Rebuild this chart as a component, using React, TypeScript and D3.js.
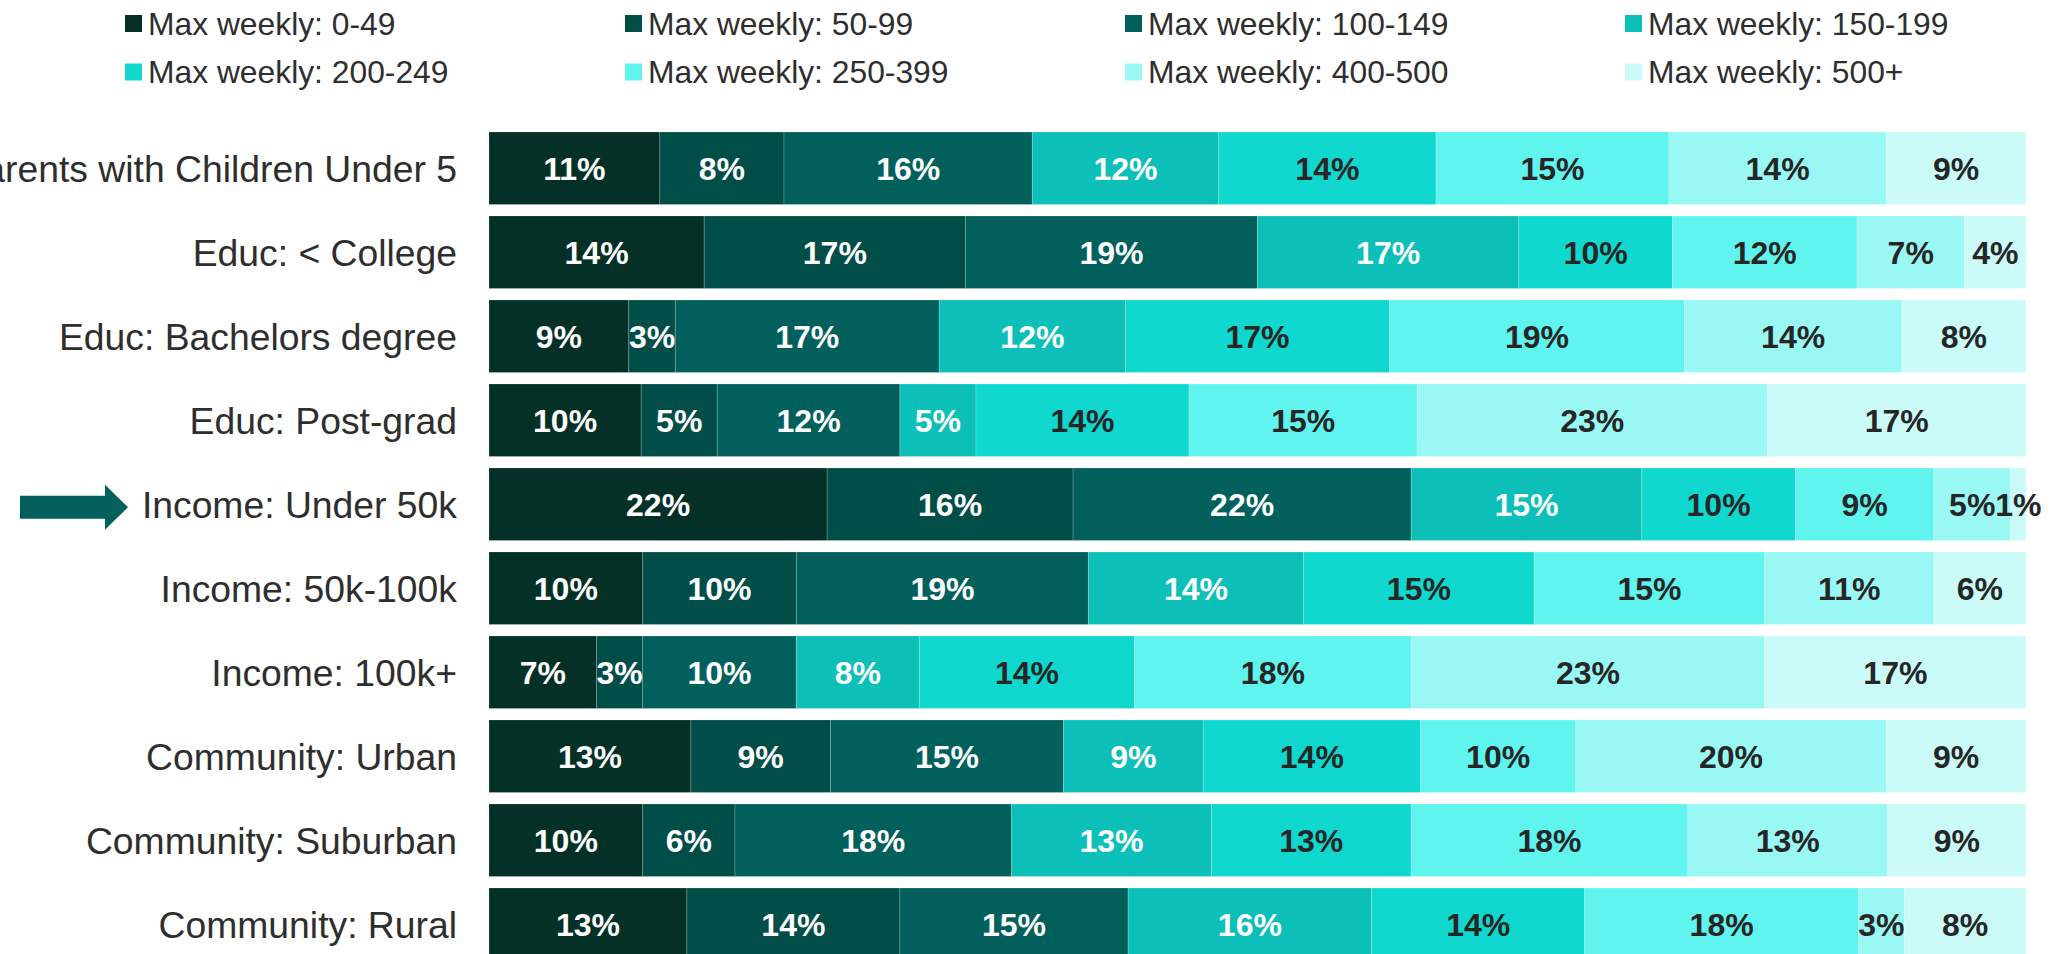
import React, { useRef, useEffect } from "react";
import * as d3 from "d3";

const categories = [
  "Parents with Children Under 5",
  "Educ: < College",
  "Educ: Bachelors degree",
  "Educ: Post-grad",
  "Income: Under 50k",
  "Income: 50k-100k",
  "Income: 100k+",
  "Community: Urban",
  "Community: Suburban",
  "Community: Rural"
];

const seriesNames = [
  "Max weekly: 0-49",
  "Max weekly: 50-99",
  "Max weekly: 100-149",
  "Max weekly: 150-199",
  "Max weekly: 200-249",
  "Max weekly: 250-399",
  "Max weekly: 400-500",
  "Max weekly: 500+"
];

// percent of respondents, one array per series (same order as categories)
const w0_49 = [11, 14, 9, 10, 22, 10, 7, 13, 10, 13];
const w50_99 = [8, 17, 3, 5, 16, 10, 3, 9, 6, 14];
const w100_149 = [16, 19, 17, 12, 22, 19, 10, 15, 18, 15];
const w150_199 = [12, 17, 12, 5, 15, 14, 8, 9, 13, 16];
const w200_249 = [14, 10, 17, 14, 10, 15, 14, 14, 13, 14];
const w250_399 = [15, 12, 19, 15, 9, 15, 18, 10, 18, 18];
const w400_500 = [14, 7, 14, 23, 5, 11, 23, 20, 13, 3];
const w500p = [9, 4, 8, 17, 1, 6, 17, 9, 9, 8];

const highlighted = "Income: Under 50k";

const colors = [
  "#043027",
  "#014D48",
  "#01605C",
  "#0CBFB9",
  "#10D8CF",
  "#5FF4EE",
  "#99F8F3",
  "#CAFBF8"
];
const lightLabel = [true, true, true, true, false, false, false, false];

const FONT = "'Liberation Sans', Arial, Helvetica, sans-serif";

const App = () => {
  const node: any = useRef();

  useEffect(() => {
    const width = 2061,
      height = 954;
    const svg = d3.select(node.current);
    svg.selectAll("*").remove();
    svg.attr("width", width).attr("height", height);

    const all = [w0_49, w50_99, w100_149, w150_199, w200_249, w250_399, w400_500, w500p];
    const rows = categories.map((c, i) => {
      const r: any = { category: c };
      seriesNames.forEach((s, j) => (r[s] = all[j][i]));
      return r;
    });

    const stacked = d3
      .stack()
      .keys(seriesNames)
      .offset(d3.stackOffsetExpand)(rows);

    const x = d3.scaleLinear().domain([0, 1]).range([489, 2026]);
    const y = d3
      .scaleBand()
      .domain(categories)
      .range([126.25, 966.25])
      .paddingInner(0.137)
      .paddingOuter(0.0685);

    const color = d3.scaleOrdinal<string>().domain(seriesNames).range(colors);

    // bars
    const groups = svg
      .append("g")
      .selectAll("g")
      .data(stacked)
      .enter()
      .append("g")
      .attr("fill", d => color(d.key));

    groups
      .selectAll("rect")
      .data(d => d.map(p => ({ p, key: d.key })))
      .enter()
      .append("rect")
      .attr("x", d => x(d.p[0]))
      .attr("y", d => y(d.p.data.category as string)!)
      .attr("width", d => x(d.p[1]) - x(d.p[0]))
      .attr("height", y.bandwidth())
      .attr("stroke", "#ffffff")
      .attr("stroke-opacity", 0.18)
      .attr("stroke-width", 1);

    // value labels
    groups
      .selectAll("text")
      .data((d, i) => d.map(p => ({ p, key: d.key, idx: i })))
      .enter()
      .append("text")
      .attr("x", d => (x(d.p[0]) + x(d.p[1])) / 2)
      .attr("y", d => y(d.p.data.category as string)! + y.bandwidth() / 2)
      .attr("dy", "0.36em")
      .attr("text-anchor", "middle")
      .attr("font-family", FONT)
      .attr("font-weight", "bold")
      .attr("font-size", "32px")
      .attr("fill", d => (lightLabel[d.idx] ? "#ffffff" : "#262626"))
      .text(d => `${d.p.data[d.key]}%`);

    // category labels
    svg
      .append("g")
      .selectAll("text")
      .data(categories)
      .enter()
      .append("text")
      .attr("x", 457)
      .attr("y", d => y(d)! + y.bandwidth() / 2)
      .attr("dy", "0.36em")
      .attr("text-anchor", "end")
      .attr("font-family", FONT)
      .attr("font-size", "37.3px")
      .attr("fill", "#2e2e2e")
      .text(d => d);

    // arrow pointing at highlighted row
    const cy = y(highlighted)! + y.bandwidth() / 2 + 3;
    const arrow = d3.path();
    arrow.moveTo(20, cy - 11.5);
    arrow.lineTo(105, cy - 11.5);
    arrow.lineTo(105, cy - 22.5);
    arrow.lineTo(128, cy);
    arrow.lineTo(105, cy + 22.5);
    arrow.lineTo(105, cy + 11.5);
    arrow.lineTo(20, cy + 11.5);
    arrow.closePath();
    svg.append("path").attr("d", arrow.toString()).attr("fill", "#02615C");

    // legend, 4 columns x 2 rows
    const legend = svg
      .append("g")
      .selectAll("g")
      .data(seriesNames)
      .enter()
      .append("g")
      .attr("transform", (_, i) => `translate(${125 + (i % 4) * 500},${i < 4 ? 23.5 : 72})`);
    legend
      .append("rect")
      .attr("x", 0)
      .attr("y", -8.5)
      .attr("width", 17)
      .attr("height", 17)
      .attr("fill", d => color(d));
    legend
      .append("text")
      .attr("x", 23)
      .attr("dy", "0.36em")
      .attr("font-family", FONT)
      .attr("font-size", "31.8px")
      .attr("fill", "#2e2e2e")
      .text(d => d);
  }, []);

  return (
    <div style={{ position: "absolute", left: 0, top: 0, width: 2061, height: 954, overflow: "hidden", background: "#fff" }}>
      <svg ref={node} style={{ display: "block" }}></svg>
    </div>
  );
};

export default App;
